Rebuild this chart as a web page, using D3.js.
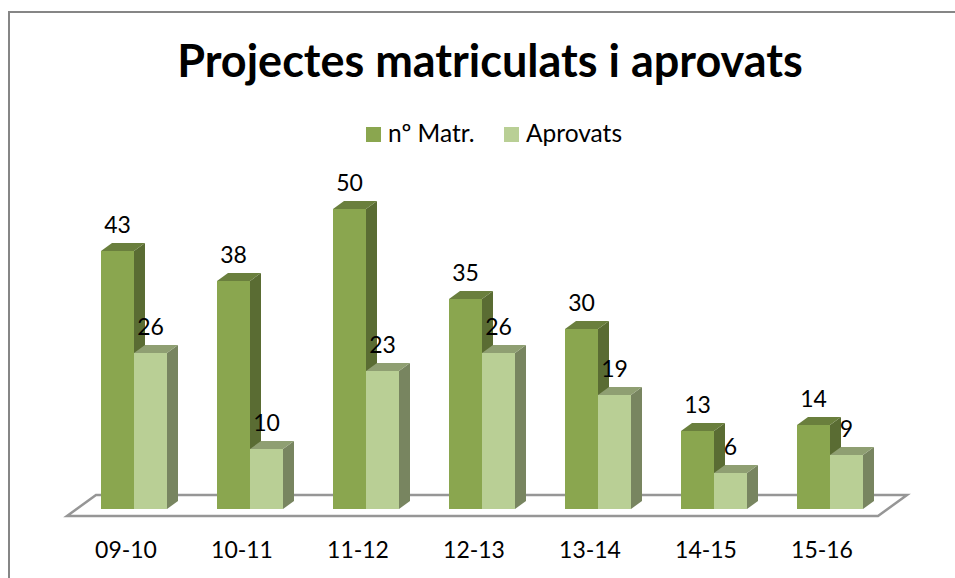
<!DOCTYPE html>
<html>
<head>
<meta charset="utf-8">
<script src="https://cdn.jsdelivr.net/npm/d3@7"></script>
<style>
  html, body { margin: 0; padding: 0; background: #fff; }
  svg { display: block; }
  text { font-family: Lato, "Open Sans", sans-serif; fill: #000; }
</style>
</head>
<body>
<div id="chart"></div>
<script>
const categories = ["09-10", "10-11", "11-12", "12-13", "13-14", "14-15", "15-16"];
const seriesNames = ["nº Matr.", "Aprovats"];
const matriculats = [43, 38, 50, 35, 30, 13, 14];
const aprovats = [26, 10, 23, 26, 19, 6, 9];

const width = 955, height = 578;
const depthX = 11, depthY = 8; // 3d offset of the bars
const labelSize = 23;

// colours for each series: front, side, top
const colors = [
  { front: "#8aa64f", side: "#5a6c33", top: "#6a7f3d" },
  { front: "#b9cf95", side: "#788560", top: "#8f9f72" },
];

const svg = d3.select("#chart").append("svg")
  .attr("width", width)
  .attr("height", height);

svg.append("rect").attr("width", width).attr("height", height).attr("fill", "#fff");

// chart frame, only left and top are in the picture
svg.append("path")
  .attr("d", d3.line()([[9, height], [9, 12], [width, 12]]))
  .attr("fill", "none")
  .attr("stroke", "#868686")
  .attr("stroke-width", 2);

svg.append("text")
  .attr("x", 490)
  .attr("y", 77)
  .attr("text-anchor", "middle")
  .attr("font-size", 45)
  .attr("font-weight", 700)
  .text("Projectes matriculats i aprovats");

const x = d3.scaleBand().domain(categories).range([76, 888]).paddingInner(0).paddingOuter(0);
const y = d3.scaleLinear().domain([0, 50]).range([509, 209]);
const xSeries = d3.scaleBand().domain(d3.range(2)).range([0, 66]);

// floor
const floorG = svg.append("g");
const [fl, fr] = [67, 878], [bl, br] = [96, 907];
floorG.append("path")
  .attr("d", d3.line()([[fl, 516], [bl, 495], [br, 495], [fr, 516]]) + "Z")
  .attr("fill", "#fff")
  .attr("stroke", "#969696")
  .attr("stroke-width", 2.5);

// bars
const groups = svg.append("g").selectAll("g")
  .data(categories)
  .join("g")
  .attr("transform", (d) => `translate(${x(d) + (x.bandwidth() - 66) / 2},0)`);

[matriculats, aprovats].forEach((values, s) => {
  const c = colors[s];
  const bw = xSeries.bandwidth();
  const bars = groups.append("g").attr("transform", `translate(${xSeries(s)},0)`);

  // side face
  bars.append("path")
    .attr("fill", c.side)
    .attr("d", (d, i) => {
      const t = y(values[i]), b = y(0);
      return d3.line()([[bw, t], [bw + depthX, t - depthY], [bw + depthX, b - depthY], [bw, b]]) + "Z";
    });
  // top face
  bars.append("path")
    .attr("fill", c.top)
    .attr("d", (d, i) => {
      const t = y(values[i]);
      return d3.line()([[0, t], [depthX, t - depthY], [bw + depthX, t - depthY], [bw, t]]) + "Z";
    });
  // front face
  bars.append("rect")
    .attr("x", 0)
    .attr("y", (d, i) => y(values[i]))
    .attr("width", bw)
    .attr("height", (d, i) => y(0) - y(values[i]))
    .attr("fill", c.front);
  // value label
  bars.append("text")
    .attr("x", bw / 2)
    .attr("y", (d, i) => y(values[i]) - 18)
    .attr("text-anchor", "middle")
    .attr("font-size", labelSize)
    .text((d, i) => values[i]);
});

// category labels
svg.append("g").selectAll("text")
  .data(categories)
  .join("text")
  .attr("x", (d) => x(d) + x.bandwidth() / 2 - 8)
  .attr("y", 558)
  .attr("text-anchor", "middle")
  .attr("font-size", labelSize)
  .text((d) => d);

// legend
const legendX = [366, 504];
const legend = svg.append("g").selectAll("g")
  .data(seriesNames)
  .join("g")
  .attr("transform", (d, i) => `translate(${legendX[i]},127)`);
legend.append("rect")
  .attr("width", 15).attr("height", 15)
  .attr("fill", (d, i) => colors[i].front);
legend.append("text")
  .attr("x", 22).attr("y", 15)
  .attr("font-size", 24.5)
  .text((d) => d);
</script>
</body>
</html>
